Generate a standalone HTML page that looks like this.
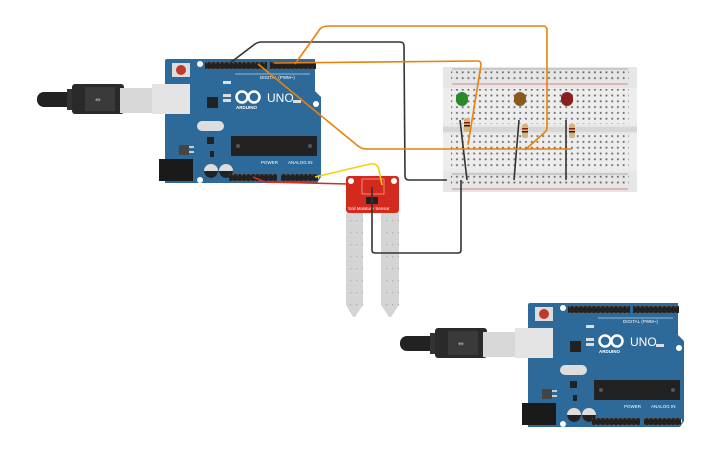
<!DOCTYPE html>
<html><head><meta charset="utf-8"><style>
html,body{margin:0;padding:0;background:#fff;width:725px;height:453px;overflow:hidden}
svg{display:block;font-family:"Liberation Sans",sans-serif}
</style></head><body>
<svg width="725" height="453" viewBox="0 0 725 453" xmlns="http://www.w3.org/2000/svg">
<defs>
<pattern id="holes" x="0" y="0" width="5.75" height="5.8" patternUnits="userSpaceOnUse">
<rect x="1.8" y="1.8" width="1.8" height="1.8" fill="#666"/>
</pattern>
<pattern id="pins" x="0" y="0" width="4.4" height="7" patternUnits="userSpaceOnUse">
<rect x="1.2" y="2.3" width="2" height="2" fill="#555"/>
</pattern>
<pattern id="sdots" x="0" y="0" width="6" height="12" patternUnits="userSpaceOnUse">
<rect x="2" y="4" width="1.2" height="1.2" fill="#aaa"/>
</pattern>
<g id="ard">
  <rect x="-128" y="33" width="40" height="15" rx="7" fill="#222"/>
  <rect x="-98" y="30" width="8" height="21" fill="#333"/>
  <rect x="-93" y="25" width="52" height="30" rx="3" fill="#2a2a2a"/>
  <rect x="-80" y="28" width="30" height="24" fill="#3a3a3a"/>
  <text x="-70" y="43" font-size="7" fill="#aaa">⇹</text>
  <rect x="-45" y="29" width="33" height="25" fill="#d8d8d8"/>
  <path d="M0,2 Q0,0 2,0 L150,0 L150,32 L156,38 L156,118 L152,124 L0,124 Z" fill="#2d6a99"/>
  <rect x="-13" y="25" width="38" height="30" fill="#e4e4e4"/>
  <rect x="7" y="4" width="18" height="14" fill="#ddd"/>
  <circle cx="16" cy="11" r="5" fill="#c0392b"/>
  <rect x="40" y="3" width="62" height="7" fill="#222"/>
  <rect x="105" y="3" width="46" height="7" fill="#222"/>
  <rect x="40" y="3" width="62" height="7" fill="url(#pins)"/>
  <rect x="105" y="3" width="46" height="7" fill="url(#pins)"/>
  <circle cx="35" cy="5" r="3" fill="#fff"/>
  <circle cx="151" cy="45" r="3" fill="#fff"/>
  <circle cx="151" cy="118" r="3" fill="#fff"/>
  <circle cx="35" cy="121" r="3" fill="#fff"/>
  <text x="95" y="20" font-size="4.5" fill="#fff">DIGITAL (PWM~)</text>
  <line x1="70" y1="15" x2="145" y2="15" stroke="#fff" stroke-width="0.6"/>
  <circle cx="77" cy="38" r="5.5" fill="none" stroke="#fff" stroke-width="2.5"/>
  <circle cx="89" cy="38" r="5.5" fill="none" stroke="#fff" stroke-width="2.5"/>
  <text x="71" y="50" font-size="4.5" fill="#fff" font-weight="bold">ARDUINO</text>
  <text x="102" y="43" font-size="12" fill="#fff">UNO</text>
  <rect x="58" y="22" width="8" height="3" fill="#ddd"/>
  <rect x="58" y="35" width="8" height="3" fill="#ddd"/>
  <rect x="58" y="40" width="8" height="3" fill="#ddd"/>
  <rect x="128" y="41" width="8" height="3" fill="#ddd"/>
  <rect x="42" y="38" width="11" height="11" fill="#222"/>
  <rect x="32" y="62" width="27" height="10" rx="5" fill="#ddd"/>
  <rect x="42" y="78" width="7" height="7" fill="#222"/>
  <rect x="14" y="86" width="10" height="10" fill="#444"/>
  <rect x="24" y="87" width="5" height="2" fill="#ccc"/><rect x="24" y="92" width="5" height="2" fill="#ccc"/>
  <rect x="45" y="92" width="4" height="6" fill="#222"/>
  <rect x="66" y="77" width="86" height="20" fill="#222"/>
  <circle cx="73" cy="87" r="2" fill="#555"/><circle cx="145" cy="87" r="2" fill="#555"/>
  <rect x="-6" y="100" width="34" height="22" fill="#1a1a1a"/>
  <circle cx="46" cy="112" r="7" fill="#ddd"/><path d="M39,112 A7,7 0 0 0 53,112 Z" fill="#222"/>
  <circle cx="61" cy="112" r="7" fill="#ddd"/><path d="M54,112 A7,7 0 0 0 68,112 Z" fill="#222"/>
  <text x="96" y="105" font-size="4.5" fill="#fff">POWER</text>
  <text x="123" y="105" font-size="4.5" fill="#fff">ANALOG IN</text>
  <rect x="64" y="115" width="48" height="7" fill="#222"/>
  <rect x="116" y="115" width="37" height="7" fill="#222"/>
  <rect x="64" y="115" width="48" height="7" fill="url(#pins)"/>
  <rect x="116" y="115" width="37" height="7" fill="url(#pins)"/>
</g>
</defs>

<use href="#ard" x="165" y="59"/>
<use href="#ard" x="528" y="303"/>

<rect x="443" y="67" width="194" height="125" fill="#e6e6e6"/>
<rect x="443" y="88" width="194" height="37" fill="#ededed"/>
<rect x="443" y="127" width="194" height="5" fill="#d6d6d6"/>
<rect x="443" y="134" width="194" height="37" fill="#ededed"/>
<line x1="452" y1="69" x2="628" y2="69" stroke="#999" stroke-width="0.8"/>
<line x1="452" y1="84" x2="628" y2="84" stroke="#c66" stroke-width="0.8"/>
<line x1="452" y1="174" x2="628" y2="174" stroke="#999" stroke-width="0.8"/>
<line x1="452" y1="189" x2="628" y2="189" stroke="#c66" stroke-width="0.8"/>
<rect x="451" y="70" width="178" height="12" fill="url(#holes)"/>
<rect x="451" y="89" width="178" height="35" fill="url(#holes)"/>
<rect x="451" y="135" width="178" height="35" fill="url(#holes)"/>
<rect x="451" y="175" width="178" height="12" fill="url(#holes)"/>

<rect x="456" y="92" width="12" height="14" rx="6" fill="#2a8a2a"/>
<rect x="514" y="92" width="12" height="14" rx="6" fill="#8a5a1a"/>
<rect x="561" y="92" width="12" height="14" rx="6" fill="#8a1f1f"/>
<g fill="#d9b47a">
<rect x="464" y="118" width="6" height="14" rx="2"/>
<rect x="522" y="124" width="6" height="14" rx="2"/>
<rect x="569" y="124" width="6" height="14" rx="2"/>
</g>
<g fill="#8b1a1a"><rect x="464" y="122" width="6" height="1.5"/><rect x="522" y="128" width="6" height="1.5"/><rect x="569" y="128" width="6" height="1.5"/></g>
<g fill="#222"><rect x="464" y="125" width="6" height="1.5"/><rect x="522" y="131" width="6" height="1.5"/><rect x="569" y="131" width="6" height="1.5"/></g>

<path d="M346,213 L363,213 L363,305 L355,317 L353,317 L346,305 Z" fill="#d4d4d4"/>
<path d="M381,213 L399,213 L399,305 L391,317 L389,317 L381,305 Z" fill="#d4d4d4"/>
<rect x="346" y="216" width="17" height="90" fill="url(#sdots)"/>
<rect x="381" y="216" width="18" height="90" fill="url(#sdots)"/>
<rect x="346" y="176" width="53" height="37" rx="3" fill="#d42a1e"/>
<circle cx="351" cy="181" r="3" fill="#fff"/><circle cx="394" cy="181" r="3" fill="#fff"/>
<rect x="362" y="179" width="22" height="15" fill="none" stroke="#f5a09a" stroke-width="0.8"/>
<rect x="366" y="197" width="12" height="7" fill="#222"/>
<text x="348" y="210" font-size="4.5" fill="#fff">Soil  Moisture  Sensor</text>

<g fill="none" stroke-width="1.6" stroke-linejoin="round">
<path d="M230,63 L255,44 Q258,42 262,42 L400,42 Q404,42 404,46 L405,176 Q405,180 409,180 L447,180" stroke="#333"/>
<path d="M372,187 L372,250 Q372,253 375,253 L458,253 Q461,253 461,250 L461,180" stroke="#333"/>
<path d="M460,120 L467,180" stroke="#333"/>
<path d="M519,120 L514,180" stroke="#333"/>
<path d="M566,120 L566,180" stroke="#333"/>
<path d="M295,64 L320,29 Q323,26 328,26 L543,26 Q547,26 547,30 L547,127 Q547,131 544,133 L525,150" stroke="#e8820c"/>
<path d="M274,63 L478,61 Q481,61 481,65 L468,145" stroke="#e8820c"/>
<path d="M258,64 L358,146 Q362,149 366,149 L572,149" stroke="#e8820c"/>
<path d="M253,177 L265,182 L348,184" stroke="#e2251e"/>
<path d="M315,177 L370,164 Q378,163 379,170 L382,185" stroke="#f3d20c"/>
</g>
</svg>
</body></html>
